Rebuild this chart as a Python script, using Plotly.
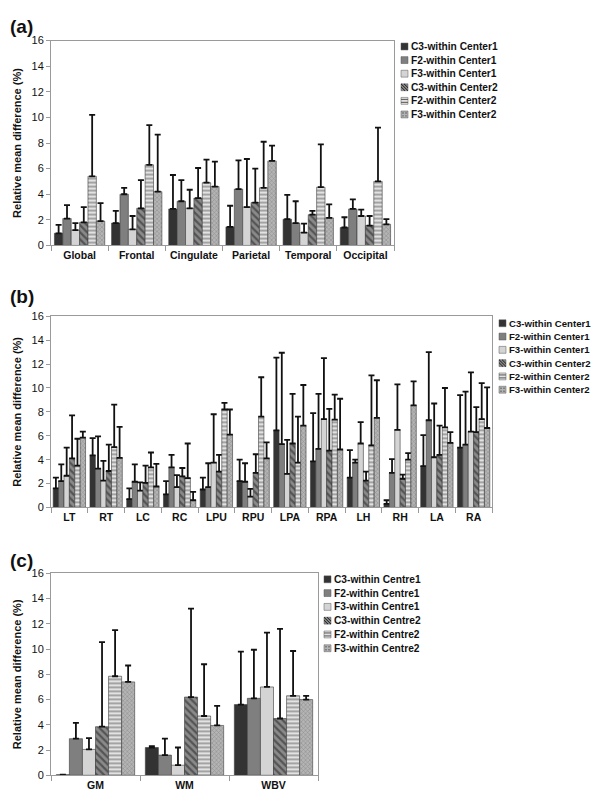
import plotly.graph_objects as go

# ---------------- DATA ----------------
cats_a = ["Global", "Frontal", "Cingulate", "Parietal", "Temporal", "Occipital"]
cats_b = ["LT", "RT", "LC", "RC", "LPU", "RPU", "LPA", "RPA", "LH", "RH", "LA", "RA"]
cats_c = ["GM", "WM", "WBV"]

names_ab = ["C3-within Center1", "F2-within Center1", "F3-within Center1",
            "C3-within Center2", "F2-within Center2", "F3-within Center2"]
names_c = ["C3-within Centre1", "F2-within Centre1", "F3-within Centre1",
           "C3-within Centre2", "F2-within Centre2", "F3-within Centre2"]

# panel (a): mean values and top of error bar
a_mean_C3_1 = [0.95, 1.75, 2.85, 1.45, 2.05, 1.4]
a_top_C3_1 = [1.6, 2.7, 5.5, 3.1, 3.95, 2.2]
a_mean_F2_1 = [2.1, 4.0, 3.45, 4.4, 1.75, 2.85]
a_top_F2_1 = [3.15, 4.5, 5.1, 6.65, 3.45, 3.6]
a_mean_F3_1 = [1.2, 1.25, 2.9, 3.0, 1.0, 2.3]
a_top_F3_1 = [1.75, 2.3, 4.35, 6.75, 1.7, 2.8]
a_mean_C3_2 = [1.8, 2.9, 3.7, 3.35, 2.4, 1.55]
a_top_C3_2 = [3.0, 5.1, 6.05, 6.0, 2.7, 2.3]
a_mean_F2_2 = [5.4, 6.3, 4.9, 4.5, 4.55, 5.0]
a_top_F2_2 = [10.2, 9.4, 6.7, 8.1, 7.9, 9.2]
a_mean_F3_2 = [1.9, 4.2, 4.6, 6.6, 2.15, 1.65]
a_top_F3_2 = [3.3, 8.65, 6.55, 7.8, 3.2, 2.05]

# panel (b)
b_mean_C3_1 = [1.6, 4.35, 0.7, 1.1, 1.5, 2.2, 6.45, 3.85, 2.5, 0.3, 3.45, 5.0]
b_top_C3_1 = [2.5, 5.8, 1.6, 2.2, 2.5, 4.0, 12.55, 7.9, 4.8, 0.6, 6.05, 9.4]
b_mean_F2_1 = [2.2, 3.25, 2.15, 3.35, 1.7, 2.15, 5.3, 4.9, 3.75, 2.9, 7.3, 5.25]
b_top_F2_1 = [3.6, 5.95, 3.6, 4.4, 3.7, 3.7, 12.95, 9.5, 4.0, 4.05, 13.0, 9.7]
b_mean_F3_1 = [2.65, 2.25, 1.4, 1.7, 3.75, 0.9, 2.8, 7.4, 5.35, 6.5, 4.2, 6.35]
b_top_F3_1 = [5.0, 3.9, 2.1, 2.7, 7.8, 1.55, 5.65, 12.5, 7.15, 10.3, 8.7, 11.3]
b_mean_C3_2 = [4.1, 3.05, 2.05, 2.6, 3.0, 2.9, 5.35, 4.75, 2.25, 2.4, 4.4, 6.3]
b_top_C3_2 = [7.7, 5.25, 3.5, 3.3, 4.4, 4.45, 9.5, 8.25, 3.0, 2.75, 6.85, 8.4]
b_mean_F2_2 = [3.5, 5.05, 3.35, 2.45, 8.2, 7.6, 3.75, 7.35, 5.2, 4.0, 6.7, 7.4]
b_top_F2_2 = [5.75, 8.6, 4.6, 5.35, 8.75, 10.9, 7.6, 9.45, 11.05, 4.55, 10.0, 10.4]
b_mean_F3_2 = [5.85, 4.15, 1.75, 0.6, 6.1, 4.1, 6.85, 4.85, 7.5, 8.55, 5.4, 6.65]
b_top_F3_2 = [6.35, 6.75, 3.65, 1.3, 8.2, 5.45, 10.25, 9.1, 10.65, 10.55, 6.3, 10.05]

# panel (c)
c_mean_C3_1 = [0.05, 2.2, 5.6]
c_top_C3_1 = [0.05, 2.3, 9.8]
c_mean_F2_1 = [2.9, 1.6, 6.1]
c_top_F2_1 = [4.15, 2.9, 9.95]
c_mean_F3_1 = [2.05, 0.8, 7.0]
c_top_F3_1 = [2.95, 2.2, 11.3]
c_mean_C3_2 = [3.85, 6.2, 4.5]
c_top_C3_2 = [10.55, 13.2, 11.6]
c_mean_F2_2 = [7.85, 4.7, 6.3]
c_top_F2_2 = [11.5, 8.8, 9.85]
c_mean_F3_2 = [7.4, 3.95, 6.0]
c_top_F3_2 = [8.7, 5.5, 6.3]

y_ticks = [0, 2, 4, 6, 8, 10, 12, 14, 16]
y_title = "Relative mean difference (%)"

# ---------------- STYLE ----------------
FONT = "Liberation Sans, Arial, sans-serif"
TXT = "#111111"
styles = [
    dict(color="#333333", pattern=dict(shape="")),
    dict(color="#7f7f7f", pattern=dict(shape="")),
    dict(color="#d4d4d4", pattern=dict(shape="")),
    dict(color="#7a7a7a", pattern=dict(shape="\\", fgcolor="#1e1e1e", bgcolor="#8a8a8a",
                                       size=5, solidity=0.45, fillmode="overlay")),
    dict(color="#e2e2e2", pattern=dict(shape="-", fgcolor="#555555", bgcolor="#e2e2e2",
                                       size=4, solidity=0.45, fillmode="overlay")),
    dict(color="#a8a8a8", pattern=dict(shape="x", fgcolor="#6a6a6a", bgcolor="#b4b4b4",
                                       size=3, solidity=0.35, fillmode="overlay")),
]

fig = go.Figure()

panels = [
    (cats_a, names_ab,
     [(a_mean_C3_1, a_top_C3_1), (a_mean_F2_1, a_top_F2_1), (a_mean_F3_1, a_top_F3_1),
      (a_mean_C3_2, a_top_C3_2), (a_mean_F2_2, a_top_F2_2), (a_mean_F3_2, a_top_F3_2)],
     "x", "y"),
    (cats_b, names_ab,
     [(b_mean_C3_1, b_top_C3_1), (b_mean_F2_1, b_top_F2_1), (b_mean_F3_1, b_top_F3_1),
      (b_mean_C3_2, b_top_C3_2), (b_mean_F2_2, b_top_F2_2), (b_mean_F3_2, b_top_F3_2)],
     "x2", "y2"),
    (cats_c, names_c,
     [(c_mean_C3_1, c_top_C3_1), (c_mean_F2_1, c_top_F2_1), (c_mean_F3_1, c_top_F3_1),
      (c_mean_C3_2, c_top_C3_2), (c_mean_F2_2, c_top_F2_2), (c_mean_F3_2, c_top_F3_2)],
     "x3", "y3"),
]

for cats, names, series, xa, ya in panels:
    for (mean, top), name, st in zip(series, names, styles):
        fig.add_trace(go.Bar(
            x=cats, y=mean, name=name, xaxis=xa, yaxis=ya, showlegend=False,
            marker=dict(color=st["color"], pattern=st["pattern"],
                        line=dict(color="#3a3a3a", width=0.6)),
            error_y=dict(type="data", symmetric=False,
                         array=[t - m for t, m in zip(top, mean)],
                         arrayminus=[0] * len(mean),
                         color=TXT, thickness=1.8, width=3),
        ))

axis_common = dict(showline=True, linecolor="#9a9a9a", linewidth=1, mirror=True,
                   showgrid=False, zeroline=False, fixedrange=True,
                   tickprefix="<b>", ticksuffix="</b>")

def yax(domain, anchor):
    return dict(domain=domain, anchor=anchor, range=[0, 16], tickvals=y_ticks,
                ticks="outside", ticklen=4, tickcolor="#9a9a9a",
                tickfont=dict(family=FONT, size=11, color=TXT),
                title=dict(text="<b>" + y_title + "</b>", standoff=7,
                           font=dict(family=FONT, size=11, color=TXT)),
                **axis_common)

def xax(domain, anchor):
    return dict(domain=domain, anchor=anchor, ticks="outside", tickson="boundaries",
                ticklen=5, tickcolor="#9a9a9a", tickangle=0,
                tickfont=dict(family=FONT, size=10.5, color=TXT), **axis_common)

W, H = 600.0, 792.0
def ydom(top_px, bot_px):
    return [1 - bot_px / H, 1 - top_px / H]

# ---- manual legends (keys as small rectangles, labels as text) ----
shapes = []
annotations = []

def add_legend(names, key_x, first_y, step, fsize):
    for i, name in enumerate(names):
        yc = first_y + i * step
        st = styles[i]
        x0, x1 = key_x, key_x + 7
        y0, y1 = yc - 3.5, yc + 3.5
        fill = st["pattern"].get("bgcolor", st["color"])
        shapes.append(dict(type="rect", xref="paper", yref="paper",
                           x0=x0 / W, x1=x1 / W, y0=1 - y1 / H, y1=1 - y0 / H,
                           fillcolor=fill, line=dict(color="#555555", width=0.5)))
        shp = st["pattern"]["shape"]
        if shp == "\\":
            for off in (-3, 0, 3):
                shapes.append(dict(type="line", xref="paper", yref="paper",
                                   x0=(x0 + max(0, off)) / W, y0=1 - (y0 + max(0, -off)) / H,
                                   x1=(x1 - max(0, -off)) / W, y1=1 - (y1 - max(0, off)) / H,
                                   line=dict(color="#1e1e1e", width=1)))
        elif shp == "-":
            for yy in (y0 + 2, y0 + 5):
                shapes.append(dict(type="line", xref="paper", yref="paper",
                                   x0=x0 / W, x1=x1 / W, y0=1 - yy / H, y1=1 - yy / H,
                                   line=dict(color="#555555", width=1)))
        elif shp == "x":
            for yy in (y0 + 2, y0 + 5):
                for xx in (x0 + 2, x0 + 5):
                    shapes.append(dict(type="rect", xref="paper", yref="paper",
                                       x0=(xx - 0.7) / W, x1=(xx + 0.7) / W,
                                       y0=1 - (yy + 0.7) / H, y1=1 - (yy - 0.7) / H,
                                       fillcolor="#6a6a6a", line=dict(width=0)))
        annotations.append(dict(text="<b>" + name + "</b>", xref="paper", yref="paper",
                                x=(key_x + 8) / W, y=1 - yc / H, xanchor="left",
                                yanchor="middle", showarrow=False,
                                font=dict(family=FONT, size=fsize, color=TXT)))

add_legend(names_ab, 393, 33, 13.8, 10.2)
add_legend(names_ab, 491, 314, 13.5, 9.6)
add_legend(names_c, 316, 574, 14, 10.2)

for lab, ytop in (("(a)", 0), ("(b)", 274), ("(c)", 542)):
    annotations.append(dict(text="<b>" + lab + "</b>", x=0, y=1 - ytop / H,
                            xref="paper", yref="paper", xanchor="left", yanchor="top",
                            showarrow=False, font=dict(family=FONT, size=19, color=TXT)))

fig.update_layout(
    width=600, height=792,
    margin=dict(l=0, r=0, t=0, b=0),
    paper_bgcolor="white", plot_bgcolor="white",
    barmode="group", bargap=0.12, bargroupgap=0.0,
    font=dict(family=FONT, color=TXT),
    xaxis=xax([43 / W, 386 / W], "y"),
    yaxis=yax(ydom(27, 235), "x"),
    xaxis2=xax([43 / W, 484 / W], "y2"),
    yaxis2=yax(ydom(307, 501), "x2"),
    xaxis3=xax([43 / W, 310 / W], "y3"),
    yaxis3=yax(ydom(568, 773), "x3"),
    shapes=shapes,
    annotations=annotations,
    showlegend=False,
)

fig.write_html("out.html")
